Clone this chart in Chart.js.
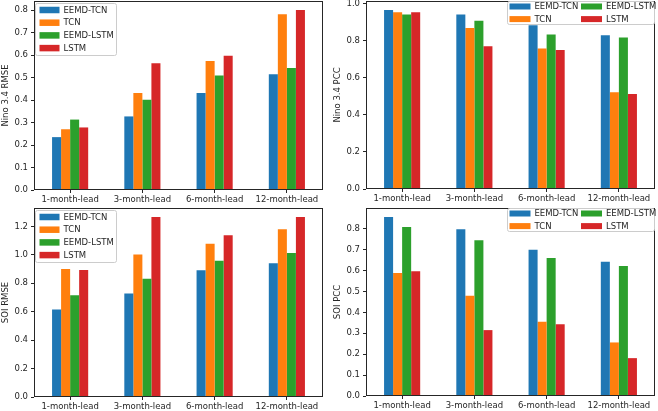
<!DOCTYPE html>
<html>
<head>
<meta charset="utf-8">
<title>EEMD-TCN vs TCN / EEMD-LSTM / LSTM</title>
<script src="https://cdn.jsdelivr.net/npm/chart.js"></script>
<style>
    html, body { margin: 0; padding: 0; background: #fff; }
    body { width: 658px; height: 411px; position: relative; overflow: hidden; }
    canvas { position: absolute; }
</style>
</head>
<body>
<canvas id="ninoRmse"></canvas>
<canvas id="ninoPcc"></canvas>
<canvas id="soiRmse"></canvas>
<canvas id="soiPcc"></canvas>

<script>
const leads = ['1-month-lead', '3-month-lead', '6-month-lead', '12-month-lead'];
const models = ['EEMD-TCN', 'TCN', 'EEMD-LSTM', 'LSTM'];
const colors = ['#1f77b4', '#ff7f0e', '#2ca02c', '#d62728'];

// Nino 3.4 RMSE
const ninoRmseEemdTcn  = [0.235, 0.327, 0.431, 0.514];
const ninoRmseTcn      = [0.270, 0.431, 0.573, 0.781];
const ninoRmseEemdLstm = [0.313, 0.401, 0.509, 0.542];
const ninoRmseLstm     = [0.278, 0.563, 0.597, 0.800];

// Nino 3.4 PCC
const ninoPccEemdTcn  = [0.966, 0.942, 0.883, 0.830];
const ninoPccTcn      = [0.953, 0.869, 0.758, 0.522];
const ninoPccEemdLstm = [0.942, 0.908, 0.834, 0.818];
const ninoPccLstm     = [0.953, 0.770, 0.750, 0.513];

// SOI RMSE
const soiRmseEemdTcn  = [0.616, 0.728, 0.892, 0.941];
const soiRmseTcn      = [0.901, 1.002, 1.078, 1.179];
const soiRmseEemdLstm = [0.716, 0.831, 0.958, 1.013];
const soiRmseLstm     = [0.893, 1.266, 1.137, 1.266];

// SOI PCC
const soiPccEemdTcn  = [0.856, 0.797, 0.699, 0.642];
const soiPccTcn      = [0.588, 0.479, 0.355, 0.256];
const soiPccEemdLstm = [0.808, 0.745, 0.660, 0.621];
const soiPccLstm     = [0.596, 0.315, 0.343, 0.181];

const font = { family: 'DejaVu Sans', size: 8.5 };
const ink = '#262626';

// axes frame + matplotlib style legend box drawn inside the plot area
const boxLegend = {
    id: 'boxLegend',
    afterDatasetsDraw(chart, args, o) {
        const { ctx, chartArea: a } = chart;
        ctx.save();
        ctx.strokeStyle = ink;
        ctx.lineWidth = 1;
        ctx.strokeRect(Math.round(a.left) + 0.5, Math.round(a.top) + 0.5,
            Math.round(a.right - a.left) - 1, Math.round(a.bottom - a.top) - 1);

        const ds = chart.data.datasets;
        const rows = Math.ceil(ds.length / o.cols);
        const bx = o.side === 'left' ? a.left + o.dx : a.right - o.dx - o.w;
        const by = a.top + o.dy;
        ctx.fillStyle = 'rgba(255,255,255,0.8)';
        ctx.strokeStyle = '#cccccc';
        ctx.beginPath();
        ctx.roundRect(bx + 0.5, by + 0.5, o.w, o.h, 2);
        ctx.fill();
        ctx.stroke();

        ctx.font = font.size + 'px ' + font.family;
        ctx.textBaseline = 'middle';
        ctx.textAlign = 'left';
        ds.forEach((d, i) => {
            const col = Math.floor(i / rows), row = i % rows;
            const x = bx + o.padX + col * o.colW;
            const y = by + o.first + row * o.rowH;
            ctx.fillStyle = d.backgroundColor;
            ctx.fillRect(x, y - o.patchH / 2, o.patchW, o.patchH);
            ctx.fillStyle = ink;
            ctx.fillText(d.label, x + o.patchW + 4, y + 0.5);
        });
        ctx.restore();
    }
};

const legendOneCol = { side: 'left', cols: 1, dx: 1, dy: 2, w: 81, h: 52, padX: 4.5, colW: 0, first: 7, rowH: 12.7, patchW: 20, patchH: 6.5 };
const legendTwoCol = { side: 'right', cols: 2, dx: 1, dy: 0, w: 147, h: 23, padX: 2.5, colW: 71.5, first: 5.5, rowH: 12.6, patchW: 21, patchH: 6 };

function makePanel(id, rect, yTitle, series, yStep, legend) {
    const cv = document.getElementById(id);
    const W = rect.r - rect.l + 34 + 3, H = rect.b - rect.t + 2 + 18;
    cv.width = W; cv.height = H;
    cv.style.left = (rect.l - 34) + 'px';
    cv.style.top = (rect.t - 2) + 'px';

    const yMax = Math.max(...series.flat()) * 1.05;
    const tickGrid = { display: true, drawOnChartArea: false, drawTicks: true, tickLength: 3, color: ink, offset: false };

    new Chart(cv, {
        type: 'bar',
        data: {
            labels: leads,
            datasets: series.map((d, i) => ({
                label: models[i], data: d, backgroundColor: colors[i],
                borderWidth: 0, categoryPercentage: 0.5, barPercentage: 1
            }))
        },
        options: {
            responsive: false,
            animation: false,
            layout: { padding: { left: 0, top: 2, right: 3, bottom: 0 } },
            plugins: { legend: { display: false }, tooltip: { enabled: false }, boxLegend: legend },
            scales: {
                x: {
                    grid: tickGrid,
                    border: { display: false },
                    ticks: { color: ink, font, padding: 2, maxRotation: 0, autoSkip: false },
                    afterFit(s) { s.height = 18; s.paddingLeft = 0; s.paddingRight = 0; }
                },
                y: {
                    min: 0, max: yMax,
                    grid: tickGrid,
                    border: { display: false },
                    ticks: { stepSize: yStep, includeBounds: false, color: ink, font, padding: 3,
                             callback: v => v.toFixed(1) },
                    title: { display: true, text: yTitle, color: ink, font, padding: { top: 1, bottom: 0 } },
                    afterFit(s) { s.width = 34; s.paddingTop = 0; s.paddingBottom = 0; }
                }
            }
        },
        plugins: [boxLegend]
    });
}

makePanel('ninoRmse', { l: 34, t: 1, r: 323, b: 190 }, 'Nino 3.4 RMSE',
    [ninoRmseEemdTcn, ninoRmseTcn, ninoRmseEemdLstm, ninoRmseLstm], 0.1, legendOneCol);
makePanel('ninoPcc', { l: 366, t: 1, r: 655, b: 189 }, 'Nino 3.4 PCC',
    [ninoPccEemdTcn, ninoPccTcn, ninoPccEemdLstm, ninoPccLstm], 0.2, legendTwoCol);
makePanel('soiRmse', { l: 34, t: 208, r: 323, b: 397 }, 'SOI RMSE',
    [soiRmseEemdTcn, soiRmseTcn, soiRmseEemdLstm, soiRmseLstm], 0.2, legendOneCol);
makePanel('soiPcc', { l: 366, t: 208, r: 655, b: 396 }, 'SOI PCC',
    [soiPccEemdTcn, soiPccTcn, soiPccEemdLstm, soiPccLstm], 0.1, legendTwoCol);
</script>
</body>
</html>
